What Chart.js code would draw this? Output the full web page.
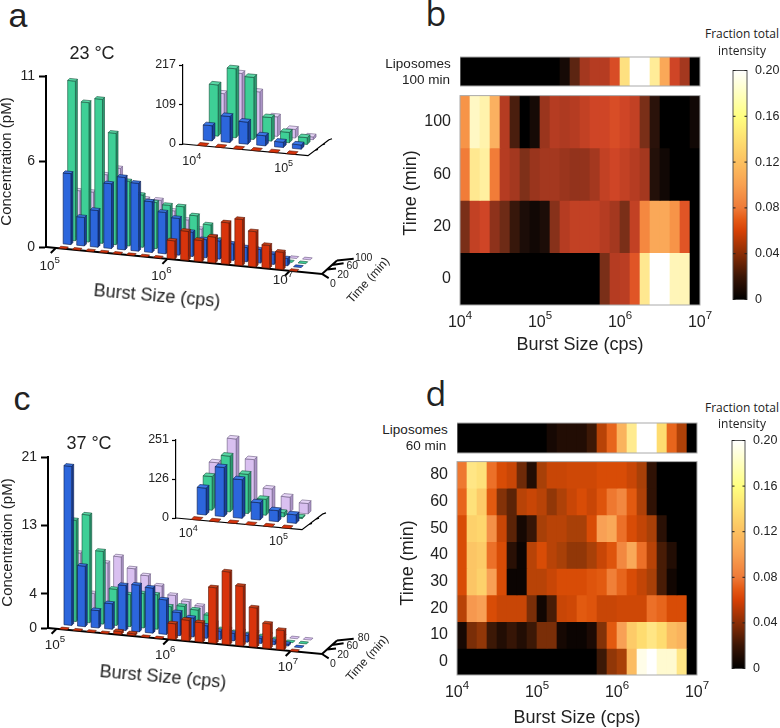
<!DOCTYPE html>
<html lang="en">
<head>
<meta charset="UTF-8">
<title>Burst size distributions</title>
<script src="https://cdn.jsdelivr.net/npm/chart.js"></script>
<style>
    html, body { margin: 0; background: #fff; }
    #page { position: relative; width: 780px; height: 728px; overflow: hidden; font-family: "Liberation Sans", sans-serif; color: #222; }
    #page canvas { position: absolute; }
    .note { position: absolute; white-space: nowrap; transform: translate(-50%, -50%); }
</style>
</head>
<body>
<div id="page"></div>
<script>
// 18 log10 burst size bins of the main panels, 6 of the insets
const mainBins = [5.0625, 5.1875, 5.3125, 5.4375, 5.5625, 5.6875, 5.8125, 5.9375, 6.0625, 6.1875, 6.3125, 6.4375, 6.5625, 6.6875, 6.8125, 6.9375, 7.0625, 7.1875];
const insetBins = [4.083, 4.25, 4.417, 4.583, 4.75, 4.917];
// 24 log10 bins of the heat maps
const heatBins = ['4.06', '4.19', '4.31', '4.44', '4.56', '4.69', '4.81', '4.94', '5.06', '5.19', '5.31', '5.44', '5.56', '5.69', '5.81', '5.94', '6.06', '6.19', '6.31', '6.44', '6.56', '6.69', '6.81', '6.94'];

// panel a, 23 C
const aMain0 = [0, 0, 0, 0, 0, 0, 0, 0, 1.2, 1.9, 1.4, 1.7, 2.7, 3.0, 2.3, 1.5, 1.15, 0];
const aMain20 = [4.6, 1.87, 2.4, 4.2, 4.7, 4.4, 3.3, 2.7, 2.4, 1.6, 1.2, 1.2, 1.1, 0.95, 0.9, 0.7, 0.5, 0];
const aMain60 = [10.3, 9.0, 9.3, 7.2, 4.2, 3.4, 3.0, 2.9, 2.9, 2.4, 1.9, 1.0, 0.8, 0.6, 0.5, 0.3, 0, 0];
const aMain100 = [3, 3, 4.2, 4.7, 3.0, 2.9, 2.9, 2.3, 1.8, 1.3, 0.9, 0.6, 0.5, 0.4, 0.3, 0.2, 0, 0];
const aInset0 = [0, 0, 0, 0, 0, 0];
const aInset20 = [43, 73, 62, 29, 16, 13];
const aInset60 = [142, 191, 172, 66, 30, 20];
const aInset100 = [105, 165, 119, 55, 25, 9];
const aTimes = ['0', '20', '60', '100'];

// panel c, 37 C
const cMain0 = [0, 0, 0, 0, 0.4, 0.3, 0, 0, 2.0, 2.6, 2.45, 6.9, 9.0, 7.4, 4.9, 3.1, 2.45, 0];
const cMain20 = [19.6, 7.5, 2.2, 3.2, 5.6, 5.8, 5.6, 4.3, 2.9, 2.4, 1.6, 1.1, 1.0, 0.9, 0.7, 0.5, 0.3, 0];
const cMain60 = [12.5, 13.3, 9.0, 4.5, 4.0, 4.3, 4.3, 3.0, 3.2, 2.9, 2.4, 0.8, 0.6, 0.5, 0.4, 0.2, 0, 0];
const cMain100 = [8, 3.2, 7.1, 8.0, 6.7, 6.0, 4.9, 3.9, 3.3, 2.9, 1.0, 0.4, 0.3, 0.3, 0.2, 0.1, 0, 0];
const cInset0 = [0, 0, 0, 0, 0, 0];
const cInset20 = [88, 160, 126, 57, 37, 29];
const cInset60 = [110, 181, 128, 53, 15, 5];
const cInset100 = [139, 221, 160, 71, 50, 35];
const cTimes = ['0', '20', '60', '80'];

// panel b, top row first
const bLiposomes = [0, 0, 0, 0, 0, 0, 0, 0, 0, 0, 0.008, 0.025, 0.045, 0.05, 0.05, 0.065, 0.14, 0.2, 0.2, 0.155, 0.105, 0.06, 0.045, 0];
const bRow100 = [0.095, 0.175, 0.165, 0.11, 0.05, 0.022, 0, 0.008, 0.042, 0.05, 0.048, 0.05, 0.055, 0.06, 0.06, 0.065, 0.06, 0.055, 0.03, 0.014, 0, 0, 0, 0.006];
const bRow60 = [0.085, 0.15, 0.16, 0.085, 0.05, 0.045, 0.032, 0.042, 0.045, 0.045, 0.042, 0.04, 0.04, 0.045, 0.055, 0.06, 0.055, 0.05, 0.045, 0.012, 0.006, 0, 0, 0];
const bRow20 = [0.03, 0.055, 0.06, 0.038, 0.028, 0.018, 0.01, 0.006, 0.01, 0.035, 0.05, 0.055, 0.055, 0.055, 0.05, 0.045, 0.03, 0.055, 0.09, 0.105, 0.105, 0.095, 0.07, 0];
const bRow0 = [0, 0, 0, 0, 0, 0, 0, 0, 0, 0, 0, 0, 0, 0, 0.03, 0.05, 0.052, 0.07, 0.15, 0.2, 0.2, 0.17, 0.17, 0];
const bTimes = ['100', '60', '20', '0'];

// panel d, top row first
const dLiposomes = [0, 0, 0, 0, 0, 0, 0, 0, 0, 0.008, 0.012, 0.012, 0.012, 0.02, 0.045, 0.065, 0.11, 0.155, 0.2, 0.2, 0.14, 0.065, 0.042, 0];
const dRow80 = [0.075, 0.15, 0.145, 0.07, 0.055, 0.05, 0.028, 0.012, 0.04, 0.05, 0.05, 0.052, 0.052, 0.052, 0.055, 0.055, 0.055, 0.05, 0.04, 0.016, 0, 0, 0, 0];
const dRow60 = [0.065, 0.145, 0.125, 0.06, 0.032, 0.025, 0.045, 0.05, 0.045, 0.035, 0.042, 0.05, 0.055, 0.05, 0.058, 0.075, 0.085, 0.06, 0.042, 0.016, 0, 0, 0, 0];
const dRow50 = [0.055, 0.13, 0.135, 0.09, 0.05, 0.025, 0.008, 0.018, 0.04, 0.045, 0.045, 0.04, 0.04, 0.055, 0.1, 0.105, 0.07, 0.055, 0.048, 0.04, 0.014, 0, 0, 0];
const dRow40 = [0.055, 0.12, 0.125, 0.07, 0.055, 0.014, 0.004, 0.045, 0.055, 0.045, 0.04, 0.035, 0.035, 0.04, 0.05, 0.058, 0.085, 0.105, 0.07, 0.045, 0.022, 0.012, 0, 0];
const dRow30 = [0.055, 0.12, 0.13, 0.1, 0.055, 0.004, 0.004, 0.045, 0.045, 0.05, 0.055, 0.055, 0.055, 0.058, 0.06, 0.08, 0.065, 0.055, 0.048, 0.04, 0.022, 0.006, 0, 0];
const dRow20 = [0.045, 0.095, 0.1, 0.055, 0.05, 0.05, 0.05, 0.03, 0.006, 0.022, 0.05, 0.052, 0.06, 0.058, 0.05, 0.05, 0.052, 0.052, 0.052, 0.07, 0.065, 0.055, 0.055, 0];
const dRow10 = [0.008, 0.03, 0.035, 0.02, 0.012, 0.018, 0.012, 0.02, 0.03, 0.03, 0.008, 0.004, 0.004, 0.01, 0.032, 0.06, 0.1, 0.125, 0.14, 0.15, 0.14, 0.115, 0.11, 0];
const dRow0 = [0, 0, 0, 0, 0, 0, 0, 0, 0, 0, 0, 0, 0, 0, 0.02, 0.035, 0.04, 0.115, 0.19, 0.2, 0.18, 0.18, 0.15, 0];
const dTimes = ['80', '60', '50', '40', '30', '20', '10', '0'];

const colorbarTicks = [0, 0.04, 0.08, 0.12, 0.16, 0.2];

// front, side, top colours for 0, 20, 60 and last time point
const boxColors = [
    ['#d8340c', '#96240a', '#c8421a'],
    ['#2c66dc', '#1c4096', '#3c78e6'],
    ['#3ecf96', '#2c9a70', '#5ad8a6'],
    ['#d9c0f0', '#ab94c6', '#e6d4f6']
];

const stopsB = [[0, '#000000'], [0.01, '#1c0d08'], [0.02, '#3e1a0c'], [0.03, '#7a2f18'], [0.04, '#93331c'], [0.05, '#b53c22'], [0.06, '#cf4526'], [0.07, '#e05526'], [0.08, '#ec7030'], [0.09, '#f58840'], [0.1, '#f9a050'], [0.12, '#fdc070'], [0.14, '#fee080'], [0.16, '#fff0a0'], [0.18, '#fffad0'], [0.2, '#ffffff']];
const stopsD = [[0, '#000000'], [0.01, '#1c0a04'], [0.02, '#3c1806'], [0.03, '#7a2e08'], [0.04, '#a84008'], [0.05, '#c84606'], [0.055, '#d84c06'], [0.06, '#e25a10'], [0.07, '#ec7028'], [0.08, '#f08038'], [0.09, '#f49048'], [0.1, '#f8a055'], [0.12, '#fcc565'], [0.14, '#fedc70'], [0.16, '#fff09a'], [0.18, '#fffad0'], [0.2, '#ffffff']];
const stopsBar = [[0, '#000000'], [0.02, '#3a1505'], [0.04, '#8a2d05'], [0.06, '#d64005'], [0.07, '#e55a15'], [0.08, '#ee7a38'], [0.1, '#f8a050'], [0.12, '#fcc060'], [0.16, '#ffff80'], [0.18, '#ffffc0'], [0.2, '#ffffff']];

Chart.defaults.font.family = '"Liberation Sans", sans-serif';
Chart.defaults.color = '#222';

const page = document.getElementById('page');

function note(text, cx, cy, size, extra) {
    const el = document.createElement('div');
    el.className = 'note';
    el.textContent = text;
    el.style.left = cx + 'px';
    el.style.top = cy + 'px';
    el.style.fontSize = size + 'px';
    if (extra) el.style.cssText += extra;
    page.appendChild(el);
}

function addCanvas(area, margin) {
    const c = document.createElement('canvas');
    c.width = area.r - area.l + margin.l + margin.r;
    c.height = area.b - area.t + margin.t + margin.b;
    c.style.left = (area.l - margin.l) + 'px';
    c.style.top = (area.t - margin.t) + 'px';
    page.appendChild(c);
    return c;
}

function drawPower(ctx, exp, cx, cy, size) {
    ctx.save();
    ctx.fillStyle = '#222';
    ctx.textAlign = 'left';
    ctx.textBaseline = 'middle';
    ctx.font = size + 'px "Liberation Sans"';
    const w1 = ctx.measureText('10').width;
    const supFont = (size * 0.72) + 'px "Liberation Sans"';
    ctx.font = supFont;
    const w2 = ctx.measureText(String(exp)).width;
    const x0 = cx - (w1 + w2) / 2;
    ctx.fillText(String(exp), x0 + w1, cy - size * 0.42);
    ctx.font = size + 'px "Liberation Sans"';
    ctx.fillText('10', x0, cy);
    ctx.restore();
}

function interpolate(v, stops) {
    let i = 1;
    while (i < stops.length - 1 && stops[i][0] < v) i++;
    const [v0, c0] = stops[i - 1], [v1, c1] = stops[i];
    const t = Math.min(1, Math.max(0, (v - v0) / (v1 - v0)));
    const ch = (c, k) => parseInt(c.substr(1 + k * 2, 2), 16);
    const mix = k => Math.round(ch(c0, k) + (ch(c1, k) - ch(c0, k)) * t);
    return `rgb(${mix(0)},${mix(1)},${mix(2)})`;
}

// bar whose element geometry comes from the scales, drawn as an oblique box
class Box3dController extends Chart.BarController {
    draw() {
        const ds = this.getDataset(), g = ds.geom, ctx = this.chart.ctx;
        const left = this.chart.chartArea.left;
        const dx = ds.depth * g.stepX, dy = ds.depth * g.stepY;
        ctx.save();
        ctx.lineWidth = g.edge;
        ctx.lineJoin = 'round';
        ctx.strokeStyle = ds.edgeColor;
        this.getMeta().data.forEach(bar => {
            const x0 = bar.x - bar.width / 2 + dx, x1 = x0 + bar.width;
            const h = bar.base - bar.y;
            const b0 = bar.base + (x0 - left) * g.slope + dy, b1 = bar.base + (x1 - left) * g.slope + dy;
            const poly = (pts, fill) => {
                ctx.beginPath();
                pts.forEach((p, i) => i ? ctx.lineTo(p[0], p[1]) : ctx.moveTo(p[0], p[1]));
                ctx.closePath();
                ctx.fillStyle = fill;
                ctx.fill();
                ctx.stroke();
            };
            if (h > 0) {
                poly([[x1, b1], [x1 + g.sideX, b1 + g.sideY], [x1 + g.sideX, b1 + g.sideY - h], [x1, b1 - h]], ds.colors[1]);
                poly([[x0, b0], [x1, b1], [x1, b1 - h], [x0, b0 - h]], ds.colors[0]);
            }
            poly([[x0, b0 - h], [x1, b1 - h], [x1 + g.sideX, b1 + g.sideY - h], [x0 + g.sideX, b0 + g.sideY - h]], ds.colors[h > 0 ? 2 : 0]);
        });
        ctx.restore();
    }
}
Box3dController.id = 'box3d';
Box3dController.defaults = Chart.BarController.defaults;
Chart.register(Box3dController);

function boxChart(o) {
    const canvas = addCanvas(o.area, o.margin);
    const g = o.geom;
    const axesPlugin = {
        id: 'obliqueAxes',
        beforeDatasetsDraw(chart) {
            const ctx = chart.ctx, x = chart.scales.x, a = chart.chartArea;
            const yAt = px => a.bottom + (px - a.left) * g.slope;
            ctx.save();
            ctx.strokeStyle = '#000';
            ctx.lineWidth = g.axisWidth;
            ctx.lineCap = 'butt';
            const ex = a.right, ey = yAt(a.right);
            ctx.beginPath();
            ctx.moveTo(a.left, a.bottom);
            ctx.lineTo(ex, ey);
            ctx.lineTo(ex + 3 * g.depthX, ey + 3 * g.depthY);
            g.depthTicks.forEach((t, i) => {
                const px = ex + i * g.depthX, py = ey + i * g.depthY;
                ctx.moveTo(px, py);
                ctx.lineTo(px + t[0], py + t[1]);
            });
            ctx.stroke();
            if (g.tick) {
                ctx.beginPath();
                o.xTicks.forEach(t => {
                    const px = x.getPixelForValue(t.at), py = yAt(px);
                    ctx.moveTo(px, py);
                    ctx.lineTo(px - g.tick, py + g.tick);
                });
                ctx.stroke();
            }
            if (o.times) {
                ctx.fillStyle = '#222';
                ctx.font = '10.5px "Liberation Sans"';
                ctx.textAlign = 'center';
                ctx.textBaseline = 'middle';
                o.times.forEach((label, i) => {
                    const t = g.depthTicks[i];
                    ctx.fillText(label, ex + i * g.depthX + t[0] + t[2], ey + i * g.depthY + t[1] + t[3]);
                });
            }
            ctx.restore();
        },
        afterDatasetsDraw(chart) {
            const x = chart.scales.x, a = chart.chartArea;
            o.xTicks.forEach(t => {
                const px = x.getPixelForValue(t.at), py = a.bottom + (px - a.left) * g.slope;
                drawPower(chart.ctx, t.exp, px + t.dx, py + t.dy, o.xFont);
            });
        }
    };
    return new Chart(canvas, {
        type: 'box3d',
        data: {
            labels: o.bins,
            datasets: o.series.map((values, i) => ({
                data: values,
                depth: i,
                geom: g,
                colors: boxColors[i],
                edgeColor: ['#5a1505', '#0c1c4c', '#14503a', '#6a5a80'][i],
                grouped: false,
                barPercentage: g.barShare,
                categoryPercentage: 1,
                clip: false
            }))
        },
        plugins: [axesPlugin],
        options: {
            responsive: false,
            animation: false,
            events: [],
            layout: { padding: { top: o.margin.t, right: o.margin.r, bottom: o.margin.b, left: 0 } },
            plugins: { legend: { display: false }, tooltip: { enabled: false } },
            scales: {
                x: { type: 'linear', display: false, offset: false, min: o.xMin, max: o.xMax },
                y: {
                    type: 'linear',
                    min: 0,
                    max: o.yTicks[o.yTicks.length - 1],
                    afterFit: s => { s.width = o.margin.l; },
                    afterBuildTicks: s => { s.ticks = o.yTicks.map(v => ({ value: v })); },
                    border: { color: '#000', width: g.axisWidth },
                    grid: { drawOnChartArea: false, tickLength: o.tickLength, tickWidth: g.axisWidth, tickColor: '#000' },
                    ticks: { font: { size: o.yFont }, padding: o.tickPad, callback: v => Math.round(v) },
                    title: o.yTitle ? { display: true, text: o.yTitle, font: { size: 15 }, padding: 0 } : { display: false }
                }
            }
        }
    });
}

function heatChart(o) {
    const canvas = addCanvas(o.area, o.margin);
    const framePlugin = {
        id: 'frame',
        afterDatasetsDraw(chart) {
            const ctx = chart.ctx, a = chart.chartArea;
            ctx.save();
            ctx.strokeStyle = '#aaa';
            ctx.lineWidth = 1;
            ctx.strokeRect(a.left, a.top, a.right - a.left, a.bottom - a.top);
            if (chart.scales.xLog) {
                [4, 5, 6, 7].forEach(e => drawPower(ctx, e, chart.scales.xLog.getPixelForValue(e), a.bottom + o.labelGap, 16));
            }
            ctx.restore();
        }
    };
    const scales = {
        x: { type: 'category', display: false, offset: true },
        y: { type: 'linear', display: false, min: 0, max: o.rows.length }
    };
    if (o.times) {
        scales.xLog = {
            type: 'linear', axis: 'x', position: 'bottom', offset: false, min: 4, max: 7,
            afterFit: s => { s.height = o.xAxisHeight; },
            border: { display: false },
            grid: { display: false, drawTicks: false },
            ticks: { display: false },
            title: { display: true, text: 'Burst Size (cps)', font: { size: 18 }, padding: 0 }
        };
        scales.yTime = {
            type: 'category', axis: 'y', position: 'left', labels: o.times, offset: true,
            afterFit: s => { s.width = o.margin.l; },
            border: { display: false },
            grid: { display: false, drawTicks: false },
            ticks: { font: { size: 16 }, padding: 9, autoSkip: false }
        };
    }
    return new Chart(canvas, {
        type: 'bar',
        data: {
            labels: heatBins,
            datasets: o.rows.map((cells, r) => ({
                // row r counts from the top, the y scale from the bottom
                data: cells.map(() => [o.rows.length - r - 1, o.rows.length - r]),
                backgroundColor: cells.map(v => interpolate(v, o.stops)),
                borderWidth: 0,
                grouped: false,
                barPercentage: 1,
                categoryPercentage: 1
            }))
        },
        plugins: [framePlugin],
        options: {
            responsive: false,
            animation: false,
            events: [],
            layout: { padding: { top: o.margin.t, right: o.margin.r, bottom: o.times ? o.margin.b - o.xAxisHeight : o.margin.b, left: o.times ? 0 : o.margin.l } },
            plugins: { legend: { display: false }, tooltip: { enabled: false } },
            scales: scales
        }
    });
}

function colorbar(area) {
    const margin = { l: 2, t: 12, r: 34, b: 12 };
    const canvas = addCanvas(area, margin);
    const tickPlugin = {
        id: 'barFrame',
        afterDatasetsDraw(chart) {
            const ctx = chart.ctx, a = chart.chartArea, y = chart.scales.y;
            ctx.save();
            ctx.strokeStyle = '#555';
            ctx.lineWidth = 1;
            ctx.strokeRect(a.left, a.top, a.right - a.left, a.bottom - a.top);
            ctx.strokeStyle = '#222';
            ctx.beginPath();
            colorbarTicks.forEach(v => {
                const py = y.getPixelForValue(v);
                ctx.moveTo(a.right - 2.5, py);
                ctx.lineTo(a.right, py);
                ctx.moveTo(a.left, py);
                ctx.lineTo(a.left + 2.5, py);
            });
            ctx.stroke();
            ctx.restore();
        }
    };
    return new Chart(canvas, {
        type: 'bar',
        data: {
            labels: ['fraction'],
            datasets: [{
                data: [[0, 0.2]],
                barPercentage: 1,
                categoryPercentage: 1,
                borderWidth: 0,
                backgroundColor: c => {
                    const p0 = c.chart.scales.y ? c.chart.scales.y.getPixelForValue(0) : NaN;
                    if (!isFinite(p0)) return '#000';
                    const grad = c.chart.ctx.createLinearGradient(0, p0, 0, c.chart.scales.y.getPixelForValue(0.2));
                    stopsBar.forEach(s => grad.addColorStop(s[0] / 0.2, s[1]));
                    return grad;
                }
            }]
        },
        plugins: [tickPlugin],
        options: {
            responsive: false,
            animation: false,
            events: [],
            layout: { padding: { top: margin.t, right: 0, bottom: margin.b, left: margin.l } },
            plugins: { legend: { display: false }, tooltip: { enabled: false } },
            scales: {
                x: { type: 'category', display: false, offset: true },
                y: {
                    type: 'linear',
                    position: 'right',
                    min: 0,
                    max: 0.2,
                    afterFit: s => { s.width = margin.r; },
                    afterBuildTicks: s => { s.ticks = colorbarTicks.map(v => ({ value: v })); },
                    border: { display: false },
                    grid: { display: false, drawTicks: false },
                    ticks: { font: { size: 12.5 }, padding: 8, callback: v => v === 0 ? '0' : v.toFixed(2) }
                }
            }
        }
    });
}

const depthHairs = [[6.7, 4.3, 4.3, 5.7], [9, -1, 7, 7], [11.6, -1.7, 8.7, 2.7], [16.7, -1.7, 10, -0.6]];
const mainGeom = { slope: 0.0975, stepX: 4.5, stepY: -4.3, depthX: 5, depthY: -4.5, sideX: 2, sideY: -2, barShare: 0.57, edge: 0.6, axisWidth: 2, tick: 5, depthTicks: depthHairs };
const insetGeom = { slope: 0.093, stepX: 6, stepY: -5.3, depthX: 7, depthY: -5.3, sideX: 2.8, sideY: -2.8, barShare: 0.5, edge: 0.6, axisWidth: 1.2, tick: 0, depthTicks: [[0, 0], [3, -1], [3, -1], [3, -1]] };

// panel a
boxChart({
    area: { l: 46, t: 76, r: 322, b: 247 }, margin: { l: 48, t: 20, r: 68, b: 60 },
    geom: mainGeom, bins: mainBins, series: [aMain0, aMain20, aMain60, aMain100],
    xMin: 4.91, xMax: 7.456, yTicks: [0, 5.5, 11], yTitle: 'Concentration (pM)', yFont: 14, tickLength: 7, tickPad: 4, xFont: 13.5,
    times: aTimes,
    xTicks: [{ at: 5, exp: 5, dx: -6, dy: 18 }, { at: 6.03, exp: 6, dx: -6, dy: 17.5 }, { at: 7.16, exp: 7, dx: -7, dy: 9 }]
});
boxChart({
    area: { l: 183, t: 65, r: 308, b: 144 }, margin: { l: 30, t: 12, r: 50, b: 40 },
    geom: insetGeom, bins: insetBins, series: [aInset0, aInset20, aInset60, aInset100],
    xMin: 3.908, xMax: 5.078, yTicks: [0, 108.5, 217], yFont: 12.5, tickLength: 4, tickPad: 3, xFont: 12.5,
    xTicks: [{ at: 4, exp: 4, dx: -1, dy: 16.7 }, { at: 4.85, exp: 5, dx: 0, dy: 15 }]
});

// panel c
boxChart({
    area: { l: 48, t: 457, r: 322, b: 628 }, margin: { l: 49, t: 20, r: 68, b: 60 },
    geom: Object.assign({}, mainGeom, { slope: 0.095 }), bins: mainBins, series: [cMain0, cMain20, cMain60, cMain100],
    xMin: 4.921, xMax: 7.449, yTicks: [0, 4.2, 12.6, 21], yTitle: 'Concentration (pM)', yFont: 14, tickLength: 7, tickPad: 4, xFont: 13.5,
    times: cTimes,
    xTicks: [{ at: 5, exp: 5, dx: -1.6, dy: 16 }, { at: 6.03, exp: 6, dx: -3, dy: 15.6 }, { at: 7.16, exp: 7, dx: -2.7, dy: 16 }]
});
boxChart({
    area: { l: 176, t: 440, r: 302, b: 518 }, margin: { l: 30, t: 12, r: 50, b: 40 },
    geom: insetGeom, bins: insetBins, series: [cInset0, cInset20, cInset60, cInset100],
    xMin: 3.901, xMax: 5.068, yTicks: [0, 125.5, 251], yFont: 12.5, tickLength: 4, tickPad: 3, xFont: 12.5,
    xTicks: [{ at: 4, exp: 4, dx: 1.6, dy: 14.5 }, { at: 4.85, exp: 5, dx: 0, dy: 14 }]
});

// panel b
heatChart({ area: { l: 460, t: 57, r: 700, b: 86 }, margin: { l: 0, t: 4, r: 4, b: 4 }, rows: [bLiposomes], stops: stopsB });
heatChart({
    area: { l: 460, t: 93, r: 700, b: 305 }, margin: { l: 60, t: 16, r: 20, b: 52 },
    rows: [bRow100, bRow60, bRow20, bRow0], times: bTimes, stops: stopsB, xAxisHeight: 51, labelGap: 18
});
colorbar({ l: 733, t: 67, r: 747, b: 303 });

// panel d
heatChart({ area: { l: 457, t: 423, r: 697, b: 453 }, margin: { l: 0, t: 4, r: 4, b: 4 }, rows: [dLiposomes], stops: stopsD });
heatChart({
    area: { l: 457, t: 459, r: 697, b: 675 }, margin: { l: 61, t: 16, r: 20, b: 54 },
    rows: [dRow80, dRow60, dRow50, dRow40, dRow30, dRow20, dRow10, dRow0], times: dTimes, stops: stopsD, xAxisHeight: 54, labelGap: 18
});
colorbar({ l: 732, t: 437, r: 745, b: 672 });

// free text
note('a', 18, 15, 34);
note('b', 436, 13, 34, 'font-family:"Open Sans";');
note('c', 22, 398, 34);
note('d', 436, 393, 34, 'font-family:"Open Sans";');
note('23 °C', 92, 53, 18);
note('37 °C', 89, 443, 18);
note('Burst Size (cps)', 157, 296, 18, 'transform:translate(-50%,-50%) rotate(5deg);');
note('Burst Size (cps)', 163, 677, 18, 'transform:translate(-50%,-50%) rotate(5deg);');
note('Time (min)', 368, 280, 12, 'transform:translate(-50%,-50%) rotate(-48deg);');
note('Time (min)', 367, 658, 12, 'transform:translate(-50%,-50%) rotate(-48deg);');
note('Time (min)', 410, 193, 18, 'transform:translate(-50%,-50%) rotate(-90deg);');
note('Time (min)', 407, 563, 18, 'transform:translate(-50%,-50%) rotate(-90deg);');
note('Liposomes', 418, 63, 13.5);
note('100 min', 426, 79, 13.5);
note('Liposomes', 415, 429, 13.5);
note('60 min', 426, 445, 13.5);
note('Fraction total', 742, 33, 12, 'font-family:"Open Sans";');
note('intensity', 742, 50, 12, 'font-family:"Open Sans";');
note('Fraction total', 742, 407, 12, 'font-family:"Open Sans";');
note('intensity', 742, 423, 12, 'font-family:"Open Sans";');
</script>
</body>
</html>
